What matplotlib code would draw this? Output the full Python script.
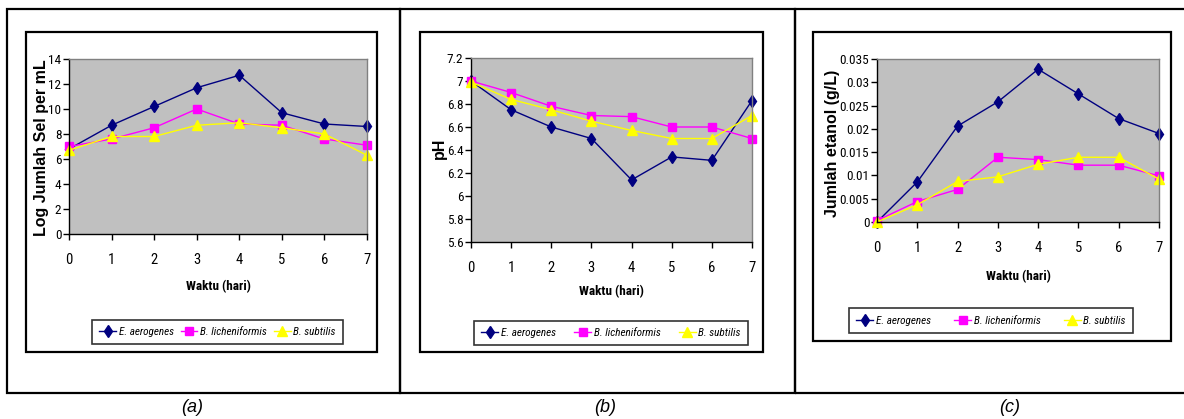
import matplotlib
matplotlib.use("Agg")
import matplotlib.pyplot as plt
from matplotlib.patches import Rectangle

W, H = 1184, 419
days = [0, 1, 2, 3, 4, 5, 6, 7]
series_names = ["E. aerogenes", "B. licheniformis", "B. subtilis"]

sel_e = [6.8, 8.7, 10.2, 11.7, 12.7, 9.7, 8.8, 8.6]
sel_l = [7.0, 7.6, 8.5, 10.0, 8.8, 8.7, 7.6, 7.1]
sel_s = [6.7, 7.8, 7.8, 8.7, 8.9, 8.5, 8.0, 6.3]

ph_e = [7.0, 6.75, 6.6, 6.5, 6.14, 6.34, 6.31, 6.83]
ph_l = [7.0, 6.9, 6.78, 6.7, 6.69, 6.6, 6.6, 6.5]
ph_s = [6.99, 6.84, 6.75, 6.65, 6.57, 6.5, 6.5, 6.7]

et_e = [0.0, 0.0086, 0.0206, 0.0258, 0.0328, 0.0275, 0.0222, 0.019]
et_l = [0.0003, 0.0044, 0.007, 0.0139, 0.0134, 0.0122, 0.0122, 0.0099]
et_s = [0.0, 0.0037, 0.0087, 0.0097, 0.0124, 0.0139, 0.0139, 0.0092]

sel_ticks = [0, 2, 4, 6, 8, 10, 12, 14]
sel_ticklabels = ["0", "2", "4", "6", "8", "10", "12", "14"]
ph_ticks = [5.6, 5.8, 6.0, 6.2, 6.4, 6.6, 6.8, 7.0, 7.2]
ph_ticklabels = ["5.6", "5.8", "6", "6.2", "6.4", "6.6", "6.8", "7", "7.2"]
et_ticks = [0, 0.005, 0.01, 0.015, 0.02, 0.025, 0.03, 0.035]
et_ticklabels = ["0", "0.005", "0.01", "0.015", "0.02", "0.025", "0.03", "0.035"]

xlabel = "Waktu (hari)"
ylabels = ["Log Jumlah Sel per mL", "pH", "Jumlah etanol (g/L)"]
panel_labels = ["(a)", "(b)", "(c)"]

narrow = ["Roboto Condensed", "Archivo Narrow", "DejaVu Sans"]
wide = ["Liberation Sans", "DejaVu Sans"]

fig = plt.figure(figsize=(W / 100, H / 100), dpi=100)
fig.patch.set_facecolor("white")

def fr(x0, y0, x1, y1):
    return [x0 / W, 1 - y1 / H, (x1 - x0) / W, (y1 - y0) / H]

def rect(x0, y0, x1, y1, lw):
    fig.patches.append(Rectangle((x0 / W, 1 - y1 / H), (x1 - x0) / W, (y1 - y0) / H,
                                 transform=fig.transFigure, fill=False,
                                 edgecolor="black", linewidth=lw, zorder=0))

# outer table cells
rect(7, 9, 400, 393, 1.6)
rect(400, 9, 795, 393, 1.6)
rect(795, 9, 1186, 393, 1.6)

colors = ["#000080", "#FF00FF", "#FFFF00"]
markers = ["d", "s", "^"]
msizes = [6.0, 5.5, 6.5]

panels = [
    dict(frame=(26, 32, 377, 352), plot=(69, 59, 367, 234), leg=(92, 317, 343, 347),
         data=[sel_e, sel_l, sel_s], ylim=(0, 14), ticks=sel_ticks, tl=sel_ticklabels,
         xl=(218, 287), yl=(42, 148), lab_x=192),
    dict(frame=(420, 32, 763, 352), plot=(471, 58, 752, 242), leg=(474, 319, 748, 347),
         data=[ph_e, ph_l, ph_s], ylim=(5.6, 7.2), ticks=ph_ticks, tl=ph_ticklabels,
         xl=(611, 292), yl=(439, 148), lab_x=605),
    dict(frame=(813, 32, 1171, 341), plot=(877, 59, 1159, 222), leg=(849, 306, 1133, 335),
         data=[et_e, et_l, et_s], ylim=(0, 0.035), ticks=et_ticks, tl=et_ticklabels,
         xl=(1018, 277), yl=(832, 143), lab_x=1010),
]

for i, p in enumerate(panels):
    rect(*p["frame"], 1.6)
    ax = fig.add_axes(fr(*p["plot"]))
    ax.set_facecolor("#C0C0C0")
    handles = []
    for d, c, m, ms, nm in zip(p["data"], colors, markers, msizes, series_names):
        h, = ax.plot(days, d, color=c, marker=m, markersize=ms, linewidth=1.0,
                     markeredgecolor=c, label=nm, clip_on=False)
        handles.append(h)
    ax.set_xlim(0, 7)
    ax.set_ylim(*p["ylim"])
    ax.set_xticks(days)
    ax.set_xticklabels([str(d) for d in days], family=narrow, fontsize=10.5)
    ax.set_yticks(p["ticks"])
    ax.set_yticklabels(p["tl"], family=narrow, fontsize=9.5)
    ax.tick_params(axis="x", direction="out", length=4, pad=10, width=1)
    ax.tick_params(axis="y", direction="out", length=4, pad=1.5, width=1)
    for s in ["top", "right"]:
        ax.spines[s].set_color("#808080")
        ax.spines[s].set_linewidth(1)
    for s in ["left", "bottom"]:
        ax.spines[s].set_color("black")
        ax.spines[s].set_linewidth(1)
    fig.text(p["yl"][0] / W, 1 - p["yl"][1] / H, ylabels[i], family=wide,
             fontweight="bold", fontsize=11.5, rotation=90, ha="center", va="center")
    fig.text(p["xl"][0] / W, 1 - p["xl"][1] / H, xlabel, family=narrow,
             fontweight="bold", fontsize=9.5, ha="center", va="center")
    lx0, ly0, lx1, ly1 = p["leg"]
    leg = fig.legend(handles=handles, loc="center",
                     bbox_to_anchor=(lx0 / W, 1 - ly1 / H, (lx1 - lx0) / W, (ly1 - ly0) / H),
                     mode="expand", ncol=3, frameon=True, fancybox=False, edgecolor="black",
                     prop=dict(family=narrow, style="italic", size=8),
                     handlelength=1.5, handletextpad=0.25, columnspacing=0.3,
                     borderpad=0.65, borderaxespad=0)
    leg.get_frame().set_linewidth(1.2)
    fig.text(p["lab_x"] / W, 1 - 407 / H, panel_labels[i], family=wide,
             style="italic", fontsize=13, ha="center", va="center")

fig.savefig("out.png", dpi=100)
